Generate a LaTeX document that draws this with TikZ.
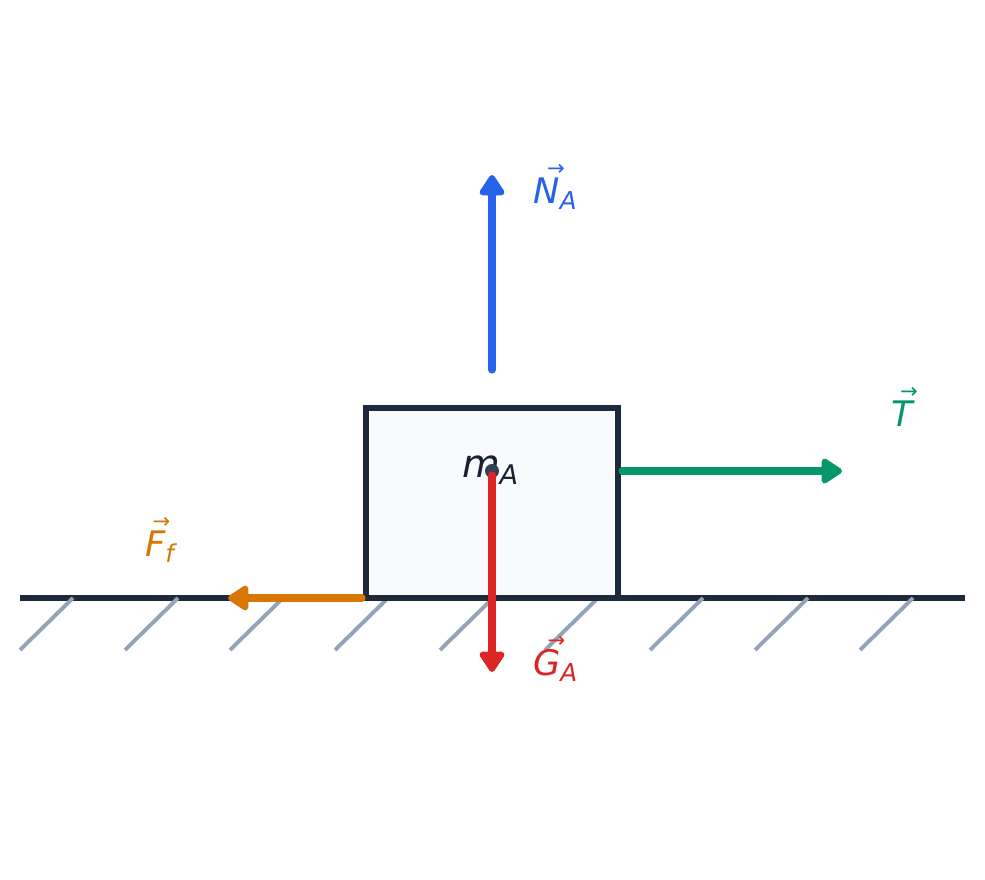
\documentclass[tikz,border=0pt]{standalone}
\usepackage{fontspec}
\usepackage{graphicx}
\setmainfont{DejaVu Sans}
\usetikzlibrary{arrows.meta}

\definecolor{ink}{HTML}{1E293B}
\definecolor{hatchgray}{HTML}{94A3B8}
\definecolor{boxfill}{HTML}{F8FAFC}
\definecolor{dotgray}{HTML}{334155}
\definecolor{nblue}{HTML}{2563EB}
\definecolor{tgreen}{HTML}{059669}
\definecolor{forange}{HTML}{D97706}
\definecolor{gred}{HTML}{DC2626}

% letter with a small arrow above it, and an index
\newcommand\fvec[2]{\textit{#1\llap{\raisebox{0.8em}{\scalebox{0.6}{→}}\hspace{-0.14em}}}\textsubscript{\textit{#2}}}

\begin{document}
\begin{tikzpicture}[x = 0.01cm, y = -0.01cm,
		force/.style = {line width = 2pt, line cap = round, -{Triangle[width = 8pt, length = 6.5pt, round]}},
		lbl/.style = {font = \fontsize{10}{12}\selectfont}]
	\useasboundingbox (0,0) rectangle (985,880);

	% ground
	\draw [ink, line width = 1.9pt](20,598)--(965,598);
	\foreach \x in {0,...,8}{
			\draw [hatchgray, line width = 1.1pt](20+105*\x,650)--++(53,-52);
		}

	% block
	\draw [ink, fill = boxfill, line width = 1.6pt](366,408)rectangle(618,598);
	\node (m)[font = \fontsize{11}{13}\selectfont, text = ink!80!black] at(491, 470)  {\textit{m}\textsubscript{\textit{A}}};
	\fill [dotgray](492,471)circle(7);

	\coordinate (c) at(492, 475);
	\coordinate (n0) at(492, 370);
	\coordinate (n1) at(492, 175);
	\coordinate (t0) at(622, 471);
	\coordinate (t1) at(842, 471);
	\coordinate (f0) at(362, 598);
	\coordinate (f1) at(228, 598);
	\coordinate (g1) at(492, 672);

	% forces
	\draw [force, nblue](n0)--(n1);
	\draw [force, tgreen](t0)--(t1);
	\draw [force, forange](f0)--(f1);
	\draw [force, gred](c)--(g1);

	\node (nl)[lbl, text = nblue] at(556, 187)  {\fvec{N}{A}};
	\node (tl)[lbl, text = tgreen] at(903, 410)  {\fvec{T}{}};
	\node (fl)[lbl, text = forange] at(162, 540)  {\fvec{F}{f}};
	\node (gl)[lbl, text = gred] at(556, 659)  {\fvec{G}{A}};
\end{tikzpicture}
\end{document}
